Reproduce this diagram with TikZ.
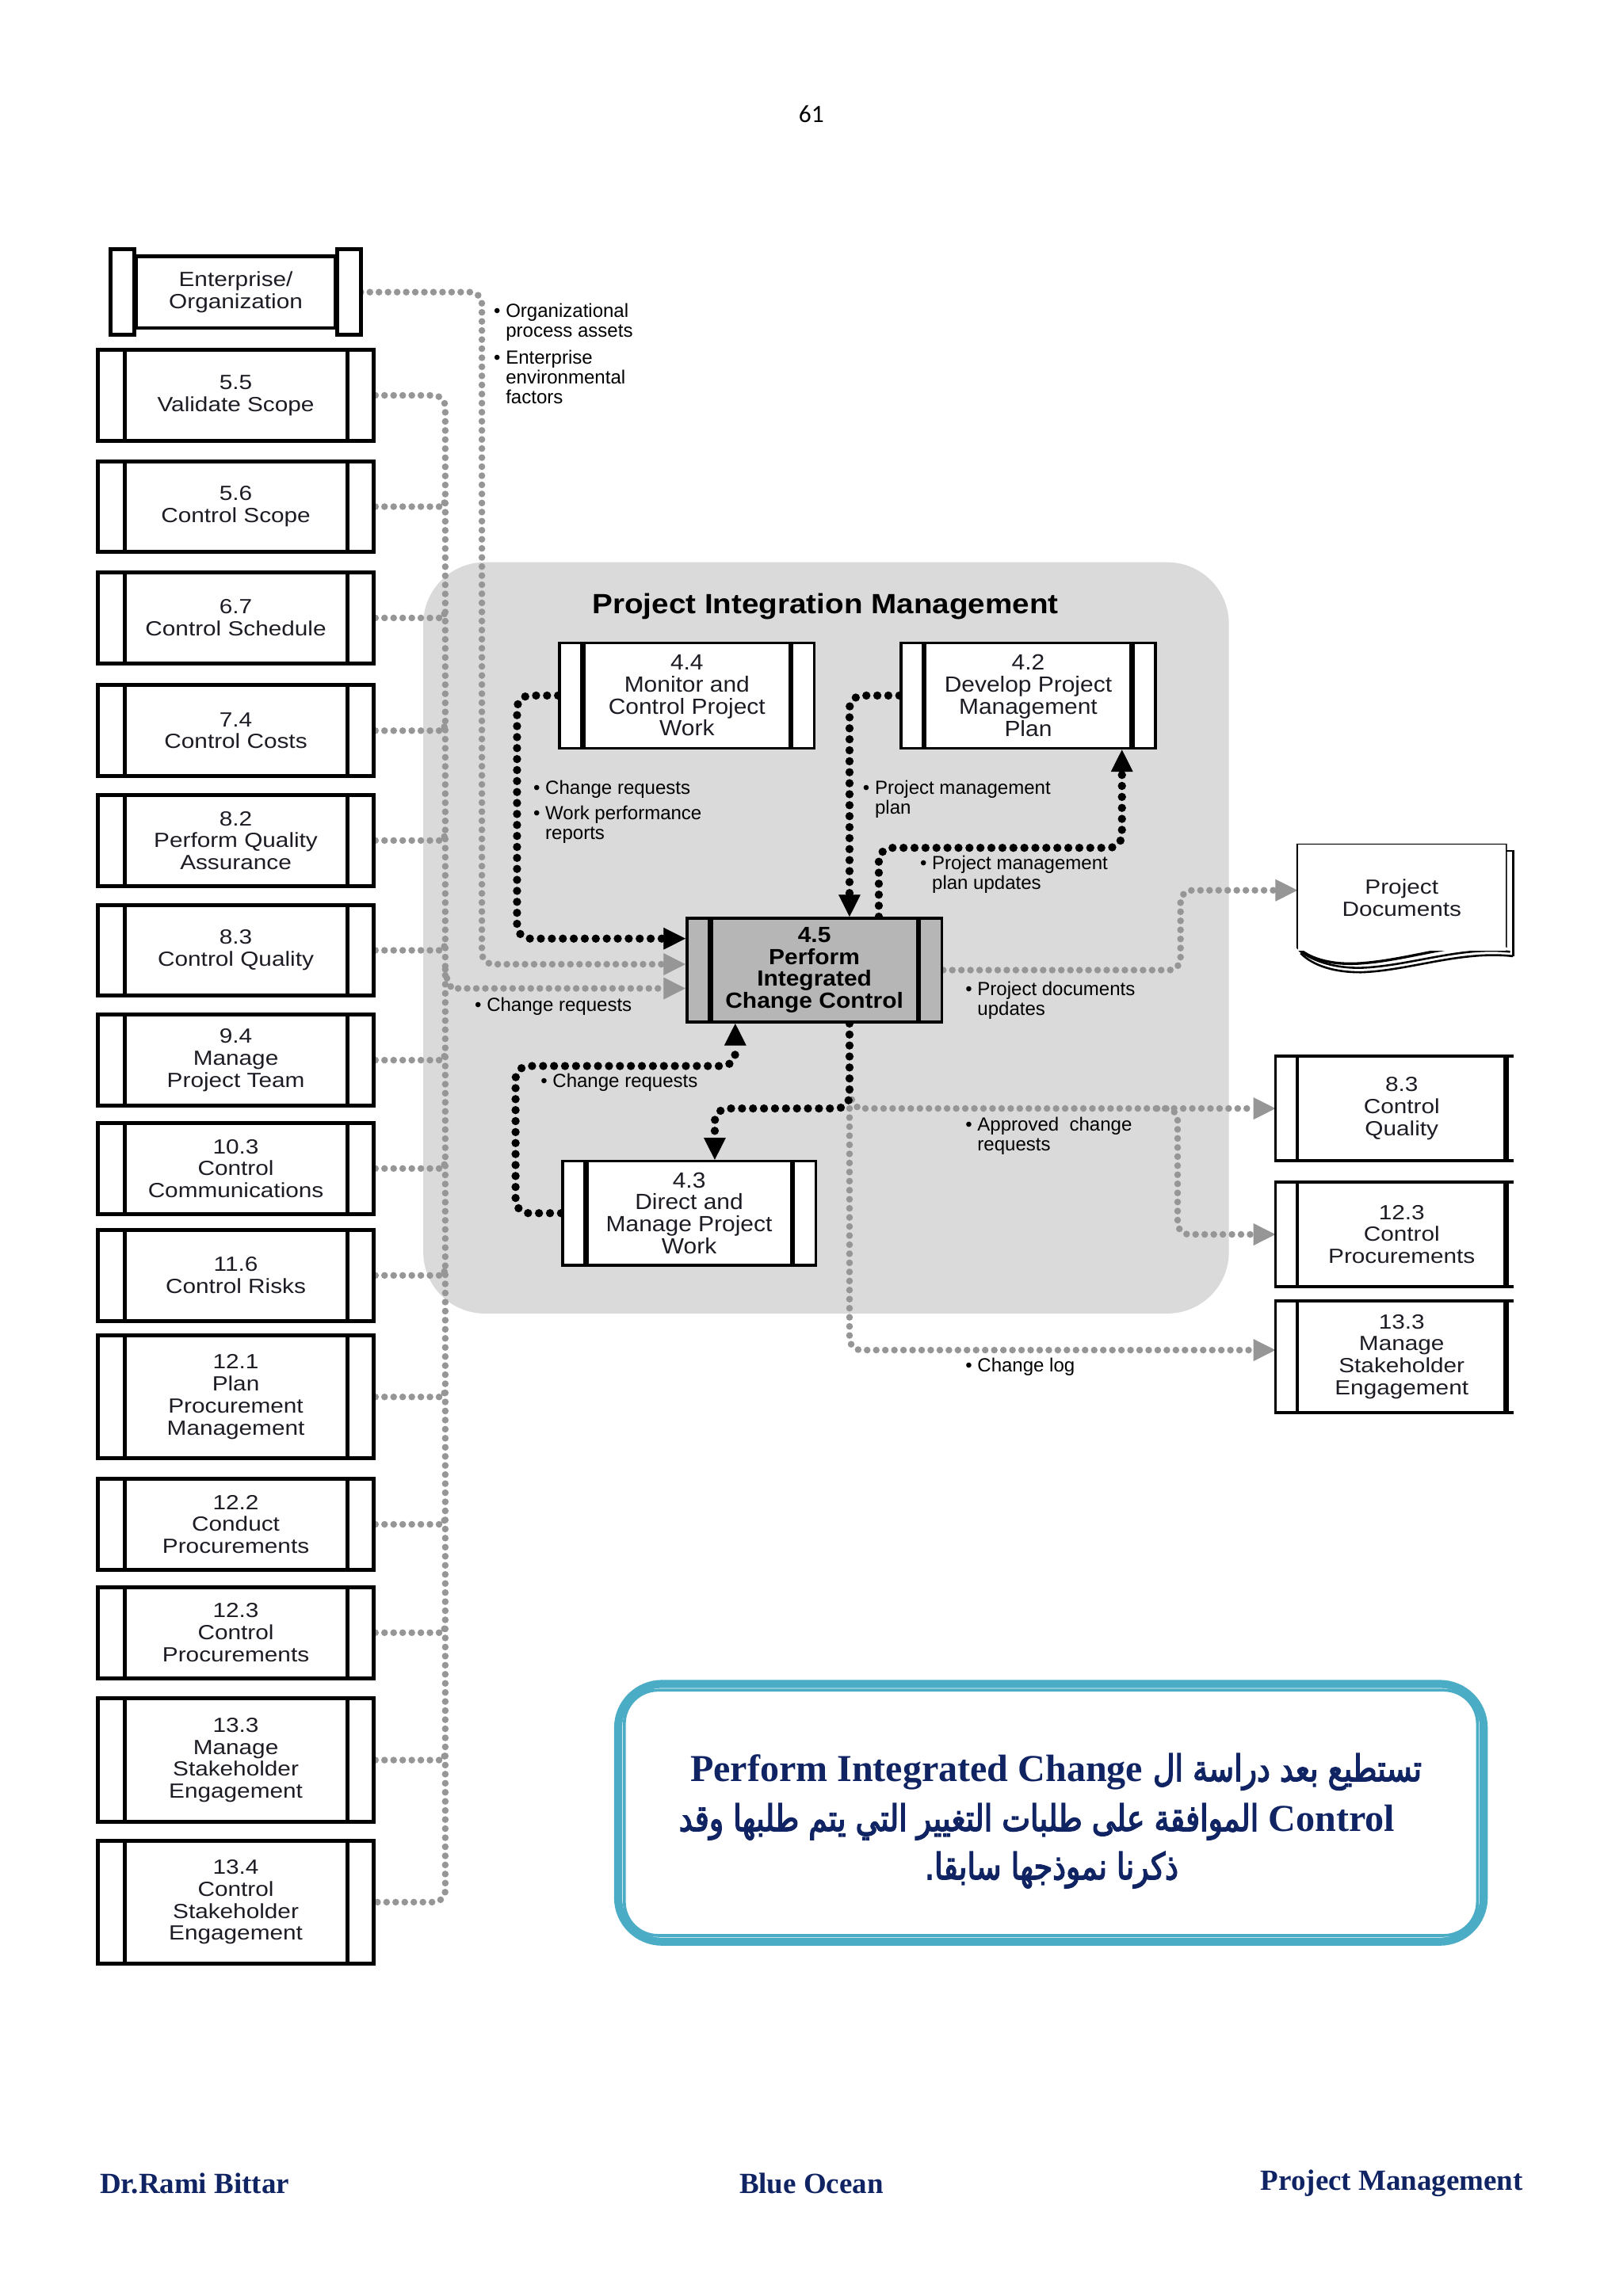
\documentclass[tikz,border=0pt]{standalone}
\usepackage{fontspec}
\usetikzlibrary{arrows.meta,calc}
\setmainfont{Liberation Sans}
\newfontfamily\boxfont[FakeStretch=1.15]{Liberation Sans}
\newfontfamily\procfont[FakeStretch=1.08]{Liberation Sans}
\newfontfamily\titlefont[FakeStretch=1.1]{Liberation Sans}
\newfontfamily\lblfont{Liberation Sans}
\newfontfamily\tnr{Liberation Serif}
\newfontfamily\arabicfont[Script=Arabic,FakeBold=3,FakeStretch=0.82]{DejaVu Sans}
\newfontfamily\pnfont{Carlito}
\TeXXeTstate=1
\definecolor{region}{RGB}{218,218,218}
\definecolor{gline}{RGB}{150,150,150}
\definecolor{procgray}{RGB}{182,182,182}
\definecolor{navy}{RGB}{16,36,100}
\definecolor{tealc}{RGB}{75,172,198}
\definecolor{boxtext}{RGB}{28,28,36}
\newcommand{\mybul}{\textbullet\ }
\newcommand{\myind}{\phantom{\textbullet\ }}
\pgfdeclarelayer{back}
\pgfdeclarelayer{mid}
\pgfdeclarelayer{shapes}
\pgfsetlayers{back,mid,shapes,main}
\tikzset{
  ptip/.tip={Triangle[length=15pt,width=15pt,line width=0.5pt]},
  lbox/.style={draw, line width=2.7pt, fill=white, minimum width=188pt, minimum height=62pt,
    inner sep=0pt, align=center, text=boxtext, font=\fontsize{14}{15}\boxfont,
    path picture={\draw[line width=2.7pt]
      ([xshift=18pt]path picture bounding box.north west) -- ([xshift=18pt]path picture bounding box.south west)
      ([xshift=-18pt]path picture bounding box.north east) -- ([xshift=-18pt]path picture bounding box.south east);}},
  tall/.style={minimum height=84pt},
  pbox/.style={draw, line width=2pt, fill=white, minimum width=174pt, minimum height=72pt,
    inner sep=0pt, align=center, text=boxtext, font=\fontsize{15}{15}\procfont,
    path picture={\draw[line width=3.5pt]
      ([xshift=16pt]path picture bounding box.north west) -- ([xshift=16pt]path picture bounding box.south west)
      ([xshift=-16pt]path picture bounding box.north east) -- ([xshift=-16pt]path picture bounding box.south east);}},
  rbox/.style={fill=white, minimum width=142pt, minimum height=71pt, inner sep=0pt,
    align=center, text=boxtext, font=\fontsize{14}{15}\boxfont},
  lbl/.style={anchor=north west, inner sep=0pt, align=left, text=black, font=\fontsize{13}{13.5}\lblfont},
  gdot/.style={draw=gline, line width=4.6pt, dash pattern=on 0pt off 6.2pt, line cap=round, rounded corners=8pt},
  bdot/.style={draw=black, line width=5.6pt, dash pattern=on 0pt off 7.5pt, line cap=round, rounded corners=9pt},
  foot/.style={font=\tnr\bfseries\fontsize{20}{24}\selectfont, text=navy, inner sep=0pt},
  arab/.style={font=\fontsize{25}{30}\selectfont, text=navy, inner sep=0pt},
  latn/.style={font=\tnr\bfseries\fontsize{26}{30}\selectfont}
}
\begin{document}
\begin{tikzpicture}[x=1pt,y=-1pt]
\useasboundingbox (0,0) rectangle (1108,1568);
\begin{pgfonlayer}{back}
\fill[white] (0,0) rectangle (1108,1568);
\fill[region, rounded corners=42pt] (289,384) rectangle (839,897);
\end{pgfonlayer}

\node[font=\pnfont\fontsize{17}{20}\selectfont] (pg) at (554,78) {61};
\node[font=\titlefont\bfseries\fontsize{19}{22}\selectfont, text=black] (title) at (563.5,414) {Project Integration Management};

% left column
\node[draw, line width=2.7pt, fill=white, minimum width=136pt, minimum height=49pt, inner sep=0pt,
  align=center, text=boxtext, font=\fontsize{14}{15}\boxfont] (ent) at (161,199.5) {Enterprise/\\Organization};
\draw[line width=2.7pt, fill=white] ([yshift=3.5pt]ent.north west) rectangle ([xshift=-16pt,yshift=-3.5pt]ent.south west);
\draw[line width=2.7pt, fill=white] ([yshift=3.5pt]ent.north east) rectangle ([xshift=16pt,yshift=-3.5pt]ent.south east);

\node[lbox] (n55) at (161,270) {5.5\\Validate Scope};
\node[lbox] (n56) at (161,346) {5.6\\Control Scope};
\node[lbox] (n67) at (161,422) {6.7\\Control Schedule};
\node[lbox] (n74) at (161,499) {7.4\\Control Costs};
\node[lbox] (n82) at (161,574) {8.2\\Perform Quality\\Assurance};
\node[lbox] (n83) at (161,649) {8.3\\Control Quality};
\node[lbox] (n94) at (161,724) {9.4\\Manage\\Project Team};
\node[lbox] (n103) at (161,798) {10.3\\Control\\Communications};
\node[lbox] (n116) at (161,871) {11.6\\Control Risks};
\node[lbox,tall] (n121) at (161,954) {12.1\\Plan\\Procurement\\Management};
\node[lbox] (n122) at (161,1041) {12.2\\Conduct\\Procurements};
\node[lbox] (n123) at (161,1115) {12.3\\Control\\Procurements};
\node[lbox,tall] (n133) at (161,1202) {13.3\\Manage\\Stakeholder\\Engagement};
\node[lbox,tall] (n134) at (161,1299) {13.4\\Control\\Stakeholder\\Engagement};

% central processes
\node[pbox] (n44) at (469,475) {4.4\\Monitor and\\Control Project\\Work};
\node[pbox] (n42) at (702,475) {4.2\\Develop Project\\Management\\Plan};
\node[pbox, fill=procgray, minimum height=71pt, font=\fontsize{15}{15}\procfont\bfseries, text=black] (n45) at (556,662.5) {4.5\\Perform\\Integrated\\Change Control};
\node[pbox, minimum width=173pt, minimum height=71pt] (n43) at (470.5,828.5) {4.3\\Direct and\\Manage Project\\Work};

% right outputs
\node[rbox, minimum height=72pt] (pd) at (957,613) {Project\\Documents};
\node[rbox] (r83) at (957,757) {8.3\\Control\\Quality};
\node[rbox] (r123) at (957,843) {12.3\\Control\\Procurements};
\node[rbox, minimum height=76pt] (r133) at (957,926.5) {13.3\\Manage\\Stakeholder\\Engagement};
\foreach \r in {r83,r123,r133}{
  \draw[line width=2pt] ([xshift=5pt]\r.north east) -- ([xshift=-15pt]\r.north west) -- ([xshift=-15pt]\r.south west) -- ([xshift=5pt]\r.south east);
  \draw[line width=2.4pt] (\r.north west) -- (\r.south west);
  \draw[line width=3.6pt] (\r.north east) -- (\r.south east);
}

% project documents sheet
\begin{pgfonlayer}{shapes}
\begin{scope}[shift={(pd.center)}]
  \draw[line width=1.4pt] (71,-32) -- (76,-32) -- (76,40);
  \draw[line width=1.4pt] (-69,38) .. controls (-60,47) and (-45,51) .. (-28,51) .. controls (5,50) and (40,36) .. (76,40);
  \draw[line width=1.4pt] (-70,36) .. controls (-60,44) and (-45,48) .. (-29,48) .. controls (5,47) and (40,33) .. (74,37);
  \draw[line width=1.8pt, fill=white] (-71,-36) -- (71,-36) -- (71,33) .. controls (40,29) and (5,43) .. (-30,45) .. controls (-50,46) and (-64,41) .. (-71,34) -- cycle;
\end{scope}
\end{pgfonlayer}

% labels
\node[lbl] (l1) at (337,207) {\mybul Organizational\\\myind process assets};
\node[lbl] (l2) at (337,239) {\mybul Enterprise\\\myind environmental\\\myind factors};
\node[lbl] (l3) at (364,533) {\mybul Change requests};
\node[lbl] (l4) at (364,550) {\mybul Work performance\\\myind reports};
\node[lbl] (l5) at (589,533) {\mybul Project management\\\myind plan};
\node[lbl] (l6) at (628,584) {\mybul Project management\\\myind plan updates};
\node[lbl] (l7) at (324,681) {\mybul Change requests};
\node[lbl] (l8) at (659,670) {\mybul Project documents\\\myind updates};
\node[lbl] (l9) at (369,733) {\mybul Change requests};
\node[lbl] (l10) at (659,763) {\mybul Approved\ \ change\\\myind requests};
\node[lbl] (l11) at (659,927) {\mybul Change log};

% connectors
\begin{pgfonlayer}{mid}
\coordinate (bj) at (304,662);
\coordinate (jc) at (580,745);
\coordinate (jp) at (790,757);
\coordinate (jl) at (580,757);
% gray bus
\draw[gdot] (n55.east) -- (304,270) -- (304,1299) -- (n134.east);
\foreach \n in {n56,n67,n74,n82,n83,n94,n103,n116,n121,n122,n123,n133}{
  \draw[gdot] (\n.east) -- ++(38pt,0pt) to[out=0,in=-90] ++(11pt,8pt);
}
\draw[gdot,-ptip] (bj) to[out=-90,in=180] (316,675) -- ([yshift=-12.5pt]n45.west);
\draw[gdot,-ptip] ([xshift=16pt]ent.east) -- (329,199.5) -- (329,658.5) -- ([yshift=4pt]n45.west);
% gray outputs
\draw[gdot,-ptip] (n45.east) -- (806,662.5) -- (806,608) -- ([yshift=5pt]pd.west);
\draw[gdot,-ptip] (jc) to[out=-90,in=180] (594,757) -- ([xshift=-15pt]r83.west);
\draw[gdot,-ptip] (jp) -- (804,757) -- (804,843) -- ([xshift=-15pt]r123.west);
\draw[gdot,-ptip] (jl) -- (580,922) -- ([xshift=-15pt,yshift=4.5pt]r133.west);
% black
\draw[bdot,-ptip] (n44.west) -- (353,475) -- (353,641) -- ([yshift=21.5pt]n45.west);
\draw[bdot,-ptip] (n42.west) -- (580,475) -- ([xshift=24pt]n45.north);
\draw[bdot,-ptip] ([xshift=44pt]n45.north) -- (600,579) -- (766,579) -- ([xshift=64pt]n42.south);
\draw[bdot,-ptip] (n43.west) -- (352,828.5) -- (352,728) -- (502,728) -- ([xshift=-54pt]n45.south);
\draw[bdot,-ptip] ([xshift=24pt]n45.south) -- (580,757) -- (488,757) -- ([xshift=17.5pt]n43.north);
\end{pgfonlayer}

% arabic note
\node[draw=tealc, line width=5.5pt, rounded corners=30pt, minimum width=591pt, minimum height=176pt, fill=white] (abox) at (717.5,1238) {};
\draw[tealc, line width=2pt, rounded corners=23pt] ([shift={(7pt,-7pt)}]abox.north west) rectangle ([shift={(-7pt,7pt)}]abox.south east);
\node[arab] (a1) at (721,1210) {\beginR{\arabicfont تستطيع بعد دراسة ال} \beginL{\tnr\bfseries\fontsize{26}{30}\selectfont Perform Integrated Change}\endL\endR};
\node[arab] (a2) at (708,1244) {\beginR\beginL{\tnr\bfseries\fontsize{26}{30}\selectfont Control}\endL{} {\arabicfont الموافقة على طلبات التغيير التي يتم طلبها وقد}\endR};
\node[arab] (a3) at (718,1277) {\beginR{\arabicfont ذكرنا نموذجها سابقا.}\endR};

% footer
\node[foot, anchor=west] (f1) at (68,1491) {Dr.Rami Bittar};
\node[foot] (f2) at (554,1491) {Blue Ocean};
\node[foot, anchor=east] (f3) at (1040,1491) {Project Management};
\end{tikzpicture}
\end{document}
